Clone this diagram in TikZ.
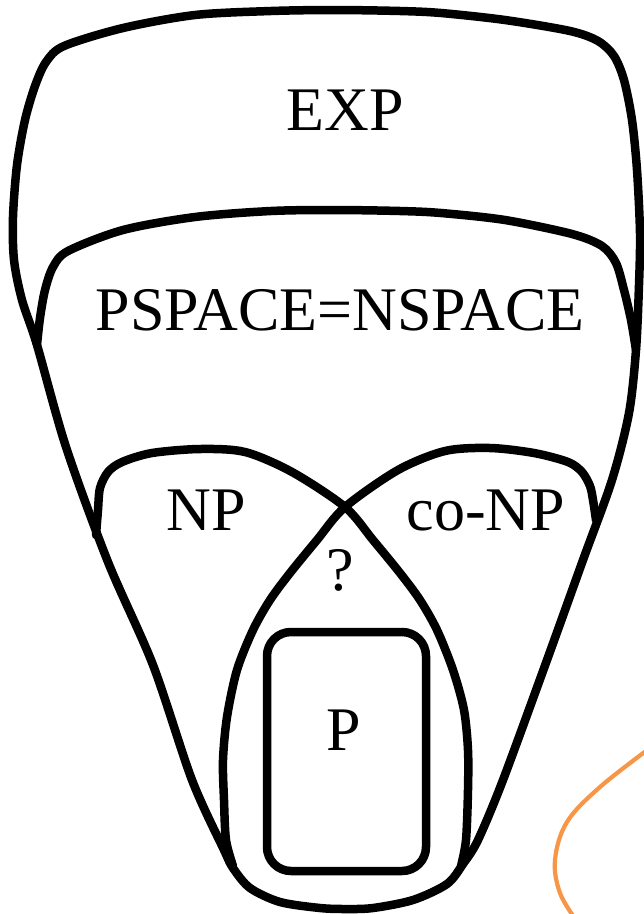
\documentclass[tikz,border=0pt]{standalone}
\usepackage{fontspec}
\setmainfont{Liberation Serif}
\definecolor{accentorange}{RGB}{247,150,70}
\tikzset{
  setline/.style={line width=8.5pt, line join=round, line cap=round, black},
  lbl/.style={anchor=base, inner sep=0pt, font=\fontsize{62}{70}\selectfont},
}
\begin{document}
\begin{tikzpicture}[x=1pt,y=-1pt]
\useasboundingbox (0,0) rectangle (644,914);
\fill[white] (0,0) rectangle (644,914);
% EXP outline
\draw[setline] plot[smooth cycle, tension=0.5] coordinates {
 (271,11) (335,10) (400,11) (441,13) (505,20) (570,31) (598,41) (614,56) (624,80)
 (632,120) (637,170) (640,233) (639,285) (636,350) (629,413) (612,480) (583,560) (547,660)
 (503,780) (478,840) (463,864) (447,884) (413,900) (373,908) (346,909) (320,908)
 (280,902) (250,888) (233,868) (224,850) (192,780) (153,665) (108,562) (66,447)
 (37,345) (22,300) (14,260) (13,217) (17,165) (25,120) (35,86) (46,62) (64,46)
 (123,28) (195,15)};
% PSPACE top arc
\draw[setline] plot[smooth, tension=0.5] coordinates {
 (37,345) (40,318) (45,290) (53,267) (68,251) (123,230) (195,217) (271,211)
 (335,210) (400,211) (441,213) (505,220) (572,234) (602,246) (616,263) (624,290)
 (631,320) (636,350)};
% NP
\draw[setline] plot[smooth, tension=0.5] coordinates {
 (96,535) (98,510) (100,488) (108,472) (122,462) (152,453) (200,449)
 (245,452) (292,472) (345,507) (373,540) (400,573) (420,600) (437,630)
 (453,670) (464,710) (468,750) (468,790) (466,840) (461,866)};
% co-NP
\draw[setline] plot[smooth, tension=0.5] coordinates {
 (596,520) (593,500) (590,486) (582,472) (568,462) (534,453) (490,448)
 (445,451) (398,470) (345,507) (317,540) (290,573) (270,600) (253,630)
 (237,670) (227,717) (223,760) (224,800) (226,840) (233,866)};
% P
\draw[setline, rounded corners=24pt] (267,632) rectangle (426,871);
% orange curve
\begin{scope}
\clip (0,0) rectangle (644,914);
\draw[accentorange, line width=4.2pt] plot[smooth, tension=0.6] coordinates {
 (650,748) (600,787) (567,822) (555,860) (560,893) (576,920)};
\end{scope}
% labels
\node[lbl] (exp) at (345,130) {EXP};
\node[lbl] (pspace) at (340,330) {PSPACE=NSPACE};
\node[lbl] (np) at (206,530) {NP};
\node[lbl] (conp) at (486,530) {co-NP};
\node[lbl] (q) at (340,590) {?};
\node[lbl] (p) at (344,750) {P};
\end{tikzpicture}
\end{document}
